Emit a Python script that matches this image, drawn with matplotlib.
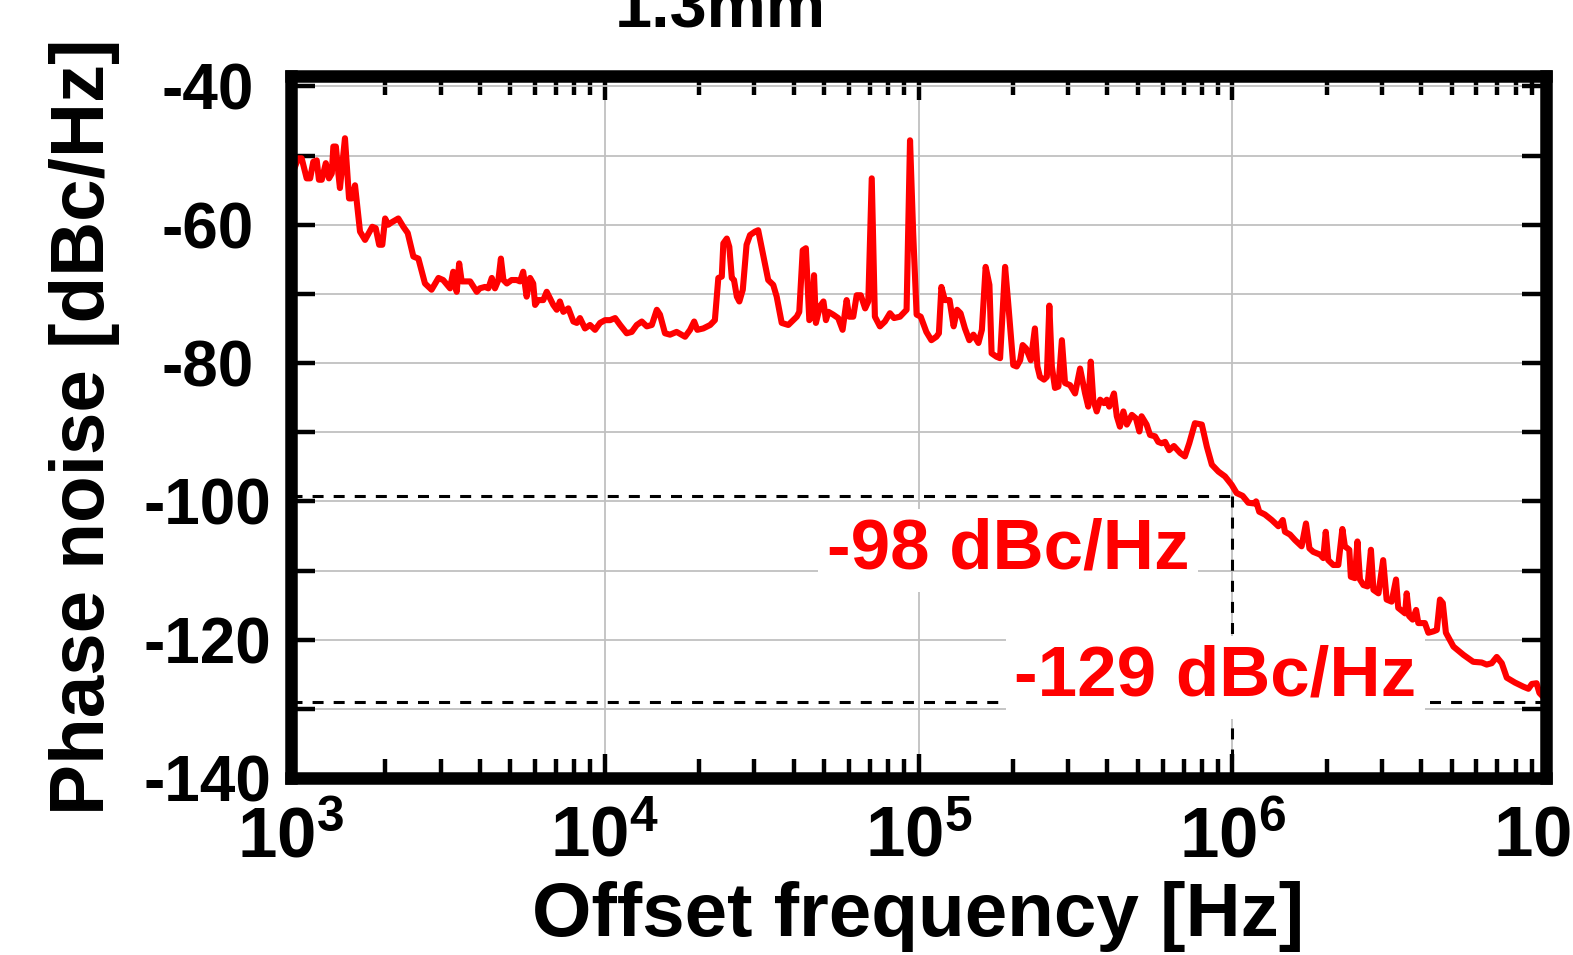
import numpy as np
import matplotlib
matplotlib.use("Agg")
import matplotlib.pyplot as plt
from matplotlib.ticker import LogLocator, MultipleLocator, FixedLocator, NullFormatter

# ---------------- data ----------------
log_freq = [
    3.007, 3.023, 3.034, 3.050, 3.061, 3.071, 3.082, 3.089, 3.098, 3.111,
    3.121, 3.130, 3.135, 3.143, 3.151, 3.156, 3.172, 3.185, 3.194, 3.204,
    3.220, 3.236, 3.259, 3.270, 3.281, 3.291, 3.300, 3.310, 3.323, 3.342,
    3.358, 3.372, 3.390, 3.406, 3.427, 3.448, 3.470, 3.485, 3.507, 3.517,
    3.528, 3.536, 3.544, 3.571, 3.592,
    3.602, 3.618, 3.629, 3.640, 3.650, 3.661, 3.669, 3.677, 3.688, 3.703,
    3.719, 3.730, 3.740, 3.751, 3.762, 3.772, 3.778, 3.788, 3.804, 3.815,
    3.836, 3.847, 3.857, 3.868, 3.884, 3.900, 3.911, 3.921, 3.937, 3.953,
    3.969, 3.985, 4.001, 4.017, 4.033, 4.049, 4.070, 4.086, 4.102, 4.118,
    4.134, 4.150, 4.166, 4.176, 4.192, 4.208, 4.229, 4.256, 4.272,
    4.285, 4.295, 4.314, 4.336, 4.351, 4.362, 4.373, 4.378, 4.389, 4.397,
    4.405, 4.412, 4.421, 4.429, 4.440, 4.452, 4.463, 4.479, 4.489, 4.508,
    4.521, 4.537, 4.548, 4.564, 4.585, 4.612, 4.620, 4.631, 4.641, 4.652,
    4.660, 4.667, 4.673, 4.686, 4.697, 4.705, 4.713, 4.728, 4.744, 4.758,
    4.771, 4.779, 4.792, 4.803, 4.816, 4.830, 4.840, 4.851, 4.861, 4.877,
    4.893, 4.909, 4.922, 4.941, 4.962, 4.973, 4.983, 4.994, 5.007,
    5.025, 5.041, 5.057, 5.065, 5.073, 5.084, 5.099, 5.112, 5.123, 5.134,
    5.148, 5.162, 5.175, 5.191, 5.202, 5.214, 5.226, 5.233, 5.249, 5.260,
    5.276, 5.286, 5.302, 5.313, 5.324, 5.332, 5.343, 5.358, 5.371, 5.379,
    5.387, 5.400, 5.409, 5.417, 5.425, 5.435, 5.446, 5.457, 5.467, 5.483,
    5.499, 5.515, 5.531, 5.541, 5.549, 5.557, 5.568,
    5.579, 5.591, 5.600, 5.608, 5.623, 5.632, 5.642, 5.653, 5.664, 5.680,
    5.693, 5.704, 5.711, 5.727, 5.738, 5.754, 5.764, 5.775, 5.786, 5.799,
    5.814, 5.834, 5.849, 5.863, 5.881, 5.903, 5.919, 5.935, 5.956, 5.977,
    5.998, 6.014, 6.033, 6.051, 6.069, 6.076, 6.086, 6.104, 6.126, 6.147,
    6.161, 6.168,
    6.184, 6.200, 6.221, 6.235, 6.246, 6.258, 6.280, 6.290, 6.298, 6.306,
    6.322, 6.338, 6.351, 6.359, 6.373, 6.378, 6.391, 6.399, 6.407, 6.418,
    6.431, 6.442, 6.450, 6.466, 6.481, 6.492, 6.508, 6.522, 6.529, 6.551,
    6.556, 6.564, 6.575, 6.586, 6.593, 6.614, 6.625, 6.641, 6.652, 6.662,
    6.671, 6.681, 6.705, 6.737, 6.768, 6.795, 6.811, 6.827, 6.843, 6.859,
    6.875, 6.901, 6.928, 6.944, 6.955, 6.970, 6.979, 7.000,
]

phase_noise_db = [
    -52.3, -50.4, -50.4, -53.3, -53.3, -50.9, -50.7, -53.5, -53.5, -51.1,
    -53.3, -52.6, -48.7, -48.7, -52.6, -54.7, -47.5, -56.2, -56.2, -54.3,
    -61.0, -62.2, -60.3, -60.5, -62.9, -62.9, -59.1, -60.0, -59.6, -59.1,
    -60.3, -61.2, -64.6, -64.9, -68.5, -69.4, -67.7, -68.0, -69.2, -66.8,
    -69.7, -65.6, -68.2, -68.2, -69.7,
    -69.2, -69.0, -69.2, -67.7, -69.2, -68.0, -64.9, -68.0, -68.5, -68.0,
    -68.0, -68.2, -66.8, -70.4, -67.7, -68.5, -71.6, -70.9, -70.9, -69.7,
    -71.6, -72.3, -71.1, -72.6, -72.1, -74.0, -74.2, -73.5, -75.0, -74.5,
    -75.2, -74.2, -73.8, -73.8, -73.5, -74.5, -75.7, -75.5, -74.5, -74.0,
    -74.7, -74.5, -72.3, -73.0, -75.7, -75.9, -75.5, -76.2, -75.2,
    -74.0, -75.2, -75.0, -74.5, -73.8, -67.7, -67.5, -62.7, -62.0, -63.2,
    -67.7, -68.0, -70.4, -71.1, -69.4, -62.9, -61.5, -61.0, -60.8, -65.1,
    -68.0, -68.7, -70.4, -74.2, -74.5, -73.3, -72.6, -63.7, -63.4, -73.8,
    -73.3, -67.3, -74.2, -71.8, -71.1, -73.8, -72.6, -73.0, -73.5, -75.2,
    -70.9, -73.3, -73.3, -70.2, -70.2, -72.1, -71.1, -53.3, -73.3, -74.7,
    -74.0, -72.8, -73.5, -73.3, -72.3, -47.8, -61.2, -73.0, -73.3,
    -75.5, -76.7, -76.2, -75.7, -69.0, -70.9, -70.9, -74.7, -72.3, -72.8,
    -75.0, -76.7, -75.9, -77.1, -75.2, -66.1, -68.7, -78.6, -79.1, -79.3,
    -66.1, -71.4, -80.3, -80.5, -79.6, -77.4, -77.9, -79.6, -75.0, -80.5,
    -82.0, -82.4, -82.0, -71.7, -80.5, -83.6, -83.4, -76.7, -82.9, -83.2,
    -84.4, -80.8, -84.4, -86.3, -79.8, -85.3, -87.0,
    -85.3, -85.8, -85.3, -86.3, -84.4, -87.7, -89.2, -87.0, -88.9, -87.5,
    -88.0, -89.9, -87.7, -88.9, -90.4, -90.6, -91.4, -91.6, -91.4, -92.6,
    -92.0, -93.0, -93.5, -91.6, -88.7, -88.9, -92.1, -94.7, -95.7, -96.4,
    -97.6, -98.8, -99.2, -100.2, -100.3, -100.0, -101.5, -101.9, -102.7, -103.6,
    -102.7, -104.4,
    -104.8, -105.6, -106.5, -103.2, -106.8, -107.3, -107.7, -108.2, -104.4, -108.5,
    -109.2, -109.2, -104.0, -106.5, -107.0, -110.9, -111.1, -105.8, -111.3, -112.1,
    -112.3, -107.0, -112.8, -113.3, -108.5, -114.2, -114.5, -111.3, -115.4, -116.2,
    -113.3, -116.6, -117.1, -115.7, -117.6, -117.6, -119.0, -118.8, -118.6, -114.2,
    -114.7, -119.0, -121.0, -122.2, -123.2, -123.3, -123.6, -123.4, -122.5, -123.4,
    -125.5, -126.2, -126.8, -127.1, -126.4, -126.3, -127.7, -128.7,
]

marker_freq_hz = 1e6
level_1mhz_db = -99.2       # dashed line drawn in the reference
level_10mhz_db = -129.0
label_1mhz = "-98 dBc/Hz"
label_10mhz = "-129 dBc/Hz"
title_text = "1.3mm"
x_label = "Offset frequency [Hz]"
y_label = "Phase noise [dBc/Hz]"
x_limits = (1e3, 1e7)
y_limits = (-140, -38.5)
y_major_ticks = [-140, -120, -100, -80, -60, -40]

# ---------------- style ----------------
plt.rcParams["font.family"] = ["Liberation Sans", "DejaVu Sans"]
plt.rcParams["font.weight"] = "bold"
plt.rcParams["mathtext.fontset"] = "custom"
plt.rcParams["mathtext.rm"] = "Liberation Sans:bold"
plt.rcParams["mathtext.bf"] = "Liberation Sans:bold"
plt.rcParams["mathtext.it"] = "Liberation Sans:bold:italic"
plt.rcParams["mathtext.default"] = "rm"
plt.rcParams["axes.unicode_minus"] = False

W, H = 1573, 955
fig = plt.figure(figsize=(W / 100, H / 100), dpi=100)
ax = fig.add_axes([291 / W, 177 / H, 1255 / W, 702 / H])

freq_hz = np.power(10.0, np.array(log_freq))
pn = np.array(phase_noise_db)

ax.plot(freq_hz, pn, color="#ff0000", lw=4.4, solid_joinstyle="round",
        solid_capstyle="round", zorder=6)

ax.set_xscale("log")
ax.set_xlim(*x_limits)
ax.set_ylim(*y_limits)

# reference dashed lines
dash = (3.6, 3.3)
ax.plot([x_limits[0], marker_freq_hz], [level_1mhz_db, level_1mhz_db],
        color="black", lw=2.2, dashes=dash, zorder=3)
ax.plot([x_limits[0], x_limits[1]], [level_10mhz_db, level_10mhz_db],
        color="black", lw=2.2, dashes=dash, zorder=3)
ax.plot([marker_freq_hz, marker_freq_hz], [level_1mhz_db, y_limits[0]],
        color="black", lw=2.2, dashes=dash, zorder=3)

# ticks
ax.xaxis.set_major_locator(LogLocator(base=10, numticks=10))
ax.xaxis.set_minor_locator(LogLocator(base=10, subs=np.arange(2, 10), numticks=20))
ax.xaxis.set_minor_formatter(NullFormatter())
ax.yaxis.set_major_locator(FixedLocator(y_major_ticks))
ax.yaxis.set_minor_locator(MultipleLocator(10))

ax.tick_params(axis="x", which="major", direction="in", top=True, bottom=True,
               length=17, width=3.2, labelsize=51, pad=20)
ax.tick_params(axis="x", which="minor", direction="in", top=True, bottom=True,
               length=13.5, width=3.2)
ax.tick_params(axis="y", which="both", direction="in", left=True, right=True,
               length=17, width=3.2, labelsize=46, pad=60)

for lab in ax.get_xticklabels():
    lab.set_fontweight("bold")
for lab in ax.get_yticklabels():
    lab.set_fontweight("bold")
    lab.set_horizontalalignment("center")

ax.grid(True, which="major", axis="x", color="#c0c0c0", lw=1.3)
ax.grid(True, which="both", axis="y", color="#c0c0c0", lw=1.3)
ax.set_axisbelow(True)

for sp in ax.spines.values():
    sp.set_linewidth(9)
    sp.set_capstyle("projecting")
    sp.set_zorder(8)

# labels
ax.set_xlabel(x_label, fontsize=55, fontweight="bold")
ax.xaxis.set_label_coords(0.5, -0.147)
ax.set_ylabel(y_label, fontsize=55, fontweight="bold")
ax.yaxis.set_label_coords(-0.136, 0.5)

fig.text(720 / W, 1 - 27 / H, title_text, ha="center", va="baseline",
         fontsize=48, fontweight="bold")

box = dict(boxstyle="square,pad=0.12", facecolor="white", edgecolor="none")
ax.text(0.5713, 0.298, label_1mhz, transform=ax.transAxes, ha="center",
        va="baseline", fontsize=51, fontweight="bold", color="#ff0000",
        bbox=box, zorder=4)
ax.text(0.7363, 0.118, label_10mhz, transform=ax.transAxes, ha="center",
        va="baseline", fontsize=51, fontweight="bold", color="#ff0000",
        bbox=box, zorder=4)

fig.savefig("out.png", dpi=100)
